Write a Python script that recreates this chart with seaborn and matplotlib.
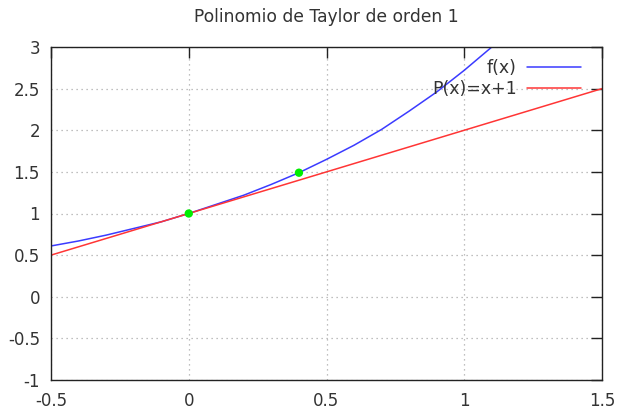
import matplotlib
matplotlib.use("Agg")
import matplotlib.pyplot as plt
import seaborn as sns
import pandas as pd

# Data
f_x = [-0.5, -0.4, -0.3, -0.2, -0.1, 0.0, 0.1, 0.2, 0.3, 0.4, 0.5, 0.6, 0.7, 0.8, 0.9, 1.0, 1.1, 1.2]
f_y = [0.61, 0.67, 0.74, 0.82, 0.90, 1.00, 1.11, 1.22, 1.35, 1.49, 1.65, 1.82, 2.01, 2.23, 2.46, 2.72, 3.00, 3.32]
p_x = [-0.5, 1.5]
p_y = [0.5, 2.5]
pts_x = [0.0, 0.4]
pts_y = [1.0, 1.49]
x_ticks = [-0.5, 0, 0.5, 1, 1.5]
x_labels = ["-0.5", "0", "0.5", "1", "1.5"]
y_ticks = [-1, -0.5, 0, 0.5, 1, 1.5, 2, 2.5, 3]
y_labels = ["-1", "-0.5", "0", "0.5", "1", "1.5", "2", "2.5", "3"]
title = "Polinomio de Taylor de orden 1"

sns.set_style("white")
plt.rcParams['font.family'] = ['DejaVu Sans']

fig = plt.figure(figsize=(6.19, 4.09), dpi=100)
ax = fig.add_axes([51/619, 1 - 380/409, (602 - 51)/619, (380 - 47)/409])

df_f = pd.DataFrame({"x": f_x, "y": f_y})
df_p = pd.DataFrame({"x": p_x, "y": p_y})
sns.lineplot(data=df_f, x="x", y="y", ax=ax, color="#3b3bff", lw=1.1, label="f(x)", sort=False)
sns.lineplot(data=df_p, x="x", y="y", ax=ax, color="#ff3535", lw=1.1, label="P(x)=x+1", sort=False)
sns.scatterplot(x=pts_x, y=pts_y, ax=ax, color="#00ee00", s=36, edgecolor="none", zorder=5)

ax.set_xlim(-0.5, 1.5)
ax.set_ylim(-1, 3)
ax.set_xticks(x_ticks)
ax.set_xticklabels(x_labels)
ax.set_yticks(y_ticks)
ax.set_yticklabels(y_labels)
ax.set_xlabel("")
ax.set_ylabel("")
ax.grid(True, color="#aaaaaa", linestyle=(0, (1, 3)), lw=0.9)
ax.tick_params(direction="in", length=8, width=1, top=True, right=True,
               labelsize=12, colors="#222222", labelcolor="#333333")
ax.tick_params(axis="y", pad=8)
ax.tick_params(axis="x", pad=9)
for s in ax.spines.values():
    s.set_color("#222222")
    s.set_linewidth(1)
ax.set_title(title, fontsize=12.3, color="#333333", pad=18)

leg = ax.legend(loc="upper right", bbox_to_anchor=(0.962, 0.965), frameon=False,
                markerfirst=False, fontsize=12.5, handlelength=3.1, borderaxespad=0,
                borderpad=0, labelspacing=0.2, handletextpad=0.6)
for t in leg.get_texts():
    t.set_color("#333333")

fig.savefig("out.png", dpi=100)
